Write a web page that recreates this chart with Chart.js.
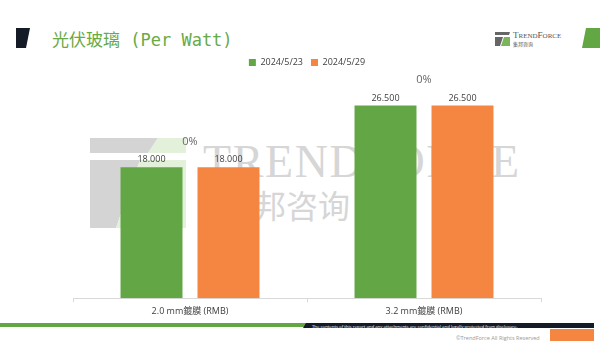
<!DOCTYPE html>
<html><head><meta charset="utf-8">
<script src="https://cdn.jsdelivr.net/npm/chart.js@4"></script>
<style>
html,body{margin:0;padding:0;background:#fff;}
#wrap{position:relative;width:609px;height:353px;overflow:hidden;font-family:"Open Sans","Noto Sans CJK TC",sans-serif;}
.abs{position:absolute;}
#title{left:52px;top:28px;font-family:"DejaVu Sans Mono","Noto Sans CJK SC",monospace;font-size:17px;color:#68aa45;line-height:24px;white-space:nowrap;}
#wm1{left:203px;top:137px;font-family:"Liberation Serif",serif;font-size:46px;color:#d6d6d6;line-height:50px;white-space:nowrap;letter-spacing:1.6px;}
#wm2{left:222px;top:184px;font-family:"Noto Sans CJK SC",sans-serif;font-size:32px;color:#d6d6d6;line-height:40px;white-space:nowrap;letter-spacing:0px;}
#logoT{left:513px;top:30px;font-family:"Liberation Serif",serif;font-size:7px;color:#555;white-space:nowrap;line-height:10px;}
#logoT b{font-weight:normal;font-size:9px;}
#logoC{left:513px;top:40px;font-family:"Noto Sans CJK SC",sans-serif;font-size:5px;color:#555;white-space:nowrap;line-height:7px;}
#copy{left:456px;top:334px;font-size:5.5px;color:#999;white-space:nowrap;line-height:8px;}
#conf{left:312px;top:323.5px;font-size:4.3px;color:#fff;white-space:nowrap;line-height:5px;}
canvas{position:absolute;left:0;top:0;}
</style></head><body>
<div id="wrap">
<svg class="abs" style="left:0;top:0" width="609" height="353">
  <polygon points="16,28 30,28 26,48 16,48" fill="#141a26"/>
  <polygon points="586,28 600,28 600,48 582,48" fill="#62a744"/>
  <!-- top logo icon -->
  <polygon points="495,32 510,32 509,35 495,35" fill="#666"/>
  <polygon points="495,37 503,37 500,46 495,46" fill="#666"/>
  <polygon points="504,37 510,37 510,46 501,46" fill="#7ab55c"/>
  <!-- watermark logo -->
  <polygon points="90,138 158,138 148,153 90,153" fill="#d4d4d4"/>
  <polygon points="158,138 186,138 186,153 148,153" fill="#e3f1da"/>
  <polygon points="90,160 140,160 116,228 90,228" fill="#d4d4d4"/>
  <polygon points="140,160 186,160 186,228 116,228" fill="#e3f1da"/>
  <!-- footer -->
  <rect x="0" y="323" width="306" height="4" fill="#62a744"/>
  <polygon points="306,323 594,323 594,328 303,328" fill="#141a26"/>
  <rect x="550" y="329" width="44" height="12" fill="#f58642"/>
</svg>
<div id="wm1" class="abs">TRENDFORCE</div>
<div id="wm2" class="abs">集邦咨询</div>
<div id="title" class="abs">光伏玻璃 (Per Watt)</div>
<div id="logoT" class="abs"><b>T</b>REND<b>F</b>ORCE</div>
<div id="logoC" class="abs">集邦咨询</div>
<div id="conf" class="abs">The contents of this report and any attachments are confidential and legally protected from disclosure.</div>
<div id="copy" class="abs">©TrendForce All Rights Reserved</div>
<canvas id="c" width="609" height="353"></canvas>
</div>
<script>
const categories = ["2.0 mm鍍膜 (RMB)", "3.2 mm鍍膜 (RMB)"];
const seriesNames = ["2024/5/23", "2024/5/29"];
const valuesA = [18.0, 26.5];
const valuesB = [18.0, 26.5];
const changeLabels = ["0%", "0%"];
const yMax = 30;

const legendGap = {
  id: 'legendGap',
  beforeInit(chart) {
    const orig = chart.legend.fit;
    chart.legend.fit = function () { orig.bind(chart.legend)(); this.height += 3; };
  }
};

const labelPlugin = {
  id: 'labels',
  afterDatasetsDraw(chart) {
    const ctx = chart.ctx;
    ctx.save();
    ctx.textAlign = 'center';
    ctx.textBaseline = 'bottom';
    ctx.font = '9px "Open Sans","Noto Sans CJK TC",sans-serif';
    ctx.fillStyle = '#404040';
    chart.data.datasets.forEach((ds, di) => {
      const meta = chart.getDatasetMeta(di);
      meta.data.forEach((bar, i) => {
        ctx.fillText(ds.data[i].toFixed(3), bar.x, bar.y - 3);
      });
    });
    const m0 = chart.getDatasetMeta(0), m1 = chart.getDatasetMeta(1);
    ctx.font = '11px "Open Sans","Noto Sans CJK TC",sans-serif';
    ctx.fillStyle = '#666';
    changeLabels.forEach((t, i) => {
      const x = (m0.data[i].x + m1.data[i].x) / 2;
      const y = Math.min(m0.data[i].y, m1.data[i].y) - 20;
      ctx.fillText(t, x, y);
    });
    ctx.restore();
  }
};

new Chart(document.getElementById('c'), {
  type: 'bar',
  data: {
    labels: categories,
    datasets: [
      { label: seriesNames[0], data: valuesA, backgroundColor: '#63a645', categoryPercentage: 0.658, barPercentage: 0.805 },
      { label: seriesNames[1], data: valuesB, backgroundColor: '#f58642', categoryPercentage: 0.658, barPercentage: 0.805 }
    ]
  },
  options: {
    responsive: false,
    animation: false,
    devicePixelRatio: 1,
    layout: { padding: { left: 73, right: 68, top: 50, bottom: 32 } },
    plugins: {
      legend: {
        display: true,
        position: 'top',
        labels: {
          boxWidth: 7, boxHeight: 7, padding: 8,
          color: '#404040',
          font: { size: 9, family: '"Open Sans","Noto Sans CJK TC",sans-serif' }
        }
      },
      tooltip: { enabled: false }
    },
    scales: {
      x: {
        grid: { display: true, drawOnChartArea: false, drawTicks: true, tickLength: 4, color: '#d9d9d9', offset: true },
        border: { display: true, color: '#d9d9d9' },
        ticks: { color: '#404040', font: { size: 9, family: '"Open Sans","Noto Sans CJK TC",sans-serif' }, padding: 4 }
      },
      y: { display: false, min: 0, max: yMax }
    }
  },
  plugins: [legendGap, labelPlugin]
});
</script>
</body></html>
